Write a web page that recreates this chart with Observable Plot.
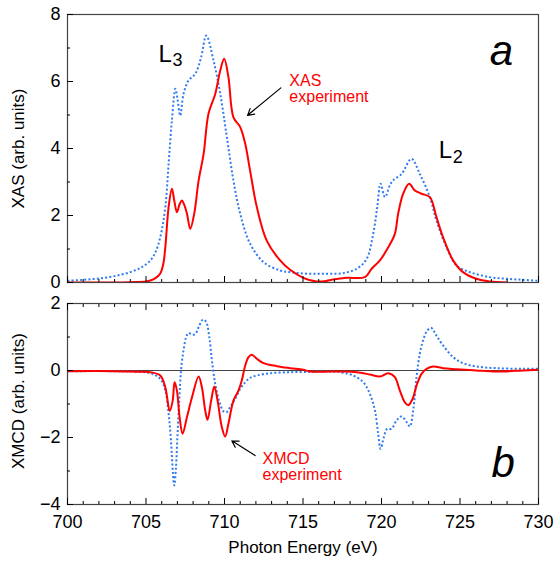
<!DOCTYPE html>
<html><head><meta charset="utf-8">
<script src="https://cdn.jsdelivr.net/npm/d3@7"></script>
<script src="https://cdn.jsdelivr.net/npm/@observablehq/plot@0.6"></script>
<style>body{margin:0;background:#fff} #chart{width:554px;height:569px;overflow:hidden} #chart svg{display:block}</style>
</head><body><div id="chart"></div>
<script>
// ---- data ----
const xasTheoryE = [700,701,702,703,704,704.7,705.28,705.6,705.91,706.23,706.44,706.65,706.87,707.0,707.18,707.39,707.71,708.14,708.5,708.84,709.3,709.73,710.15,710.57,711.0,711.63,712.48,713.54,714.18,715.0,715.87,716.7,717.57,718.42,719.05,719.47,719.73,719.94,720.22,720.53,720.74,721.28,721.91,722.44,723.08,723.5,724.14,724.77,725.62,726.89,728,729.01,730];
const xasTheoryV = [0.05,0.08,0.12,0.19,0.31,0.45,0.66,0.9,1.35,2.25,3.55,4.84,5.78,5.5,4.98,5.63,6.03,6.23,6.7,7.37,6.63,5.63,4.34,3.04,2.05,1.16,0.61,0.36,0.31,0.27,0.26,0.26,0.28,0.41,0.7,1.45,2.25,2.95,2.55,2.9,3.05,3.24,3.69,3.24,2.55,1.85,1.05,0.51,0.31,0.16,0.11,0.08,0.05];

const xasExpE = [700,703,704,705,705.28,705.6,705.91,706.1,706.23,706.44,706.65,706.8,706.97,707.15,707.29,707.45,707.61,707.82,708.07,708.35,708.67,708.98,709.41,709.73,709.98,710.25,710.57,711.0,711.32,711.63,712.06,712.69,713.54,714.18,715.02,715.87,716.4,716.93,717.78,718.94,719.37,719.9,720.43,720.85,721.06,721.38,721.76,722.12,722.55,723.08,723.5,723.92,724.56,725.19,726.04,726.89,728];
const xasExpV = [0,0,0.01,0.03,0.06,0.13,0.27,0.55,1.05,2.25,2.8,2.45,2.1,2.35,2.45,2.3,2.05,1.6,2.05,3.04,3.84,5.04,5.63,6.33,6.68,6.13,4.93,4.64,4.14,3.34,2.25,1.25,0.66,0.38,0.14,0.03,0.04,0.09,0.14,0.16,0.41,0.66,1.05,1.45,2.05,2.65,2.95,2.75,2.65,2.55,1.95,1.35,0.66,0.31,0.11,0.03,0];

const xmcdTheoryE = [700,703,704,705.28,705.91,706.23,706.44,706.59,706.72,706.8,706.91,707.01,707.12,707.23,707.39,707.56,707.71,707.93,708.14,708.35,708.63,708.84,709.03,709.2,709.41,709.68,709.94,710.15,710.36,710.68,711.0,711.32,711.63,712.06,712.91,714.18,715.45,716.29,717.36,718.2,718.84,719.26,719.58,719.79,719.94,720.15,720.36,720.64,720.96,721.28,721.6,721.81,722.02,722.23,722.44,722.65,722.91,723.18,723.5,723.92,724.56,725.19,726.04,727.32,729.01,730];
const xmcdTheoryV = [-0.02,-0.02,-0.03,-0.08,-0.25,-0.6,-1.29,-2.09,-3.08,-3.43,-2.89,-1.89,-0.9,0.0,0.6,1.0,1.12,1.07,1.09,1.29,1.52,1.44,1.0,0.3,-0.4,-0.94,-1.22,-1.24,-1.09,-0.85,-0.55,-0.35,-0.22,-0.15,-0.08,-0.05,-0.04,-0.03,-0.05,-0.15,-0.35,-0.7,-1.19,-1.89,-2.34,-1.99,-1.74,-1.74,-1.49,-1.37,-1.54,-1.67,-1.19,-0.2,0.5,0.9,1.19,1.27,1.04,0.75,0.4,0.22,0.12,0.07,0.05,0.05];

const xmcdExpE = [700,703,704.5,705.28,705.91,706.23,706.51,706.7,706.82,706.97,707.14,707.33,707.61,707.93,708.35,708.56,708.77,708.92,709.15,709.35,709.56,709.83,710.04,710.25,710.57,710.89,711.1,711.32,711.53,711.74,712.06,712.48,713.33,714.18,715.02,715.45,716.72,717.57,718.42,719.26,719.9,720.43,720.85,721.17,721.49,721.7,721.98,722.23,722.55,722.87,723.29,723.92,724.77,726.04,727.32,729.01,730];
const xmcdExpV = [-0.02,-0.02,-0.04,-0.05,-0.15,-0.5,-1.21,-0.9,-0.35,-0.6,-1.39,-1.89,-1.39,-0.8,-0.18,-0.5,-1.19,-1.47,-0.9,-0.48,-0.9,-1.69,-1.97,-1.59,-0.9,-0.6,-0.3,0.15,0.4,0.47,0.35,0.22,0.13,0.07,0.02,-0.03,-0.03,-0.03,-0.05,-0.12,-0.18,-0.08,-0.2,-0.6,-0.95,-1.04,-0.85,-0.45,-0.1,0.05,0.12,0.07,0.04,0.0,-0.03,0.0,0.02];

const xMajor = [700,705,710,715,720,725,730];
const xMinor = [701,702,703,704,706,707,708,709,711,712,713,714,716,717,718,719,721,722,723,724,726,727,728,729];
const yTopMajor = [0,2,4,6,8];
const yTopMinor = [1,3,5,7];
const yBotMajor = [-4,-2,0,2];
const yBotMinor = [-3,-1,1];

const xLabel = "Photon Energy (eV)";
const yTopLabel = "XAS (arb. units)";
const yBotLabel = "XMCD (arb. units)";

// ---- styling ----
const FONT = '"Liberation Sans", Arial, Helvetica, sans-serif';
const RED = "#ff0000";
const BLUE = "#2f7bf0";
const FRAME = "#444";
const blank = () => "";

const common = {
  width: 554, marginLeft: 67, marginRight: 16,
  x: {domain: [700, 730], label: null},
  style: {fontFamily: FONT, fontSize: "18px", color: "#000", background: "#fff", overflow: "visible"}
};

const dotted = {stroke: BLUE, strokeWidth: 2, strokeDasharray: "2,2.2", strokeLinecap: "butt", curve: "catmull-rom", clip: true};
const solid = {stroke: RED, strokeWidth: 2, curve: "catmull-rom", clip: true};

const topPanel = Plot.plot({
  ...common,
  height: 290, marginTop: 14, marginBottom: 8,
  y: {domain: [0, 8], label: null},
  marks: [
    Plot.line(xasTheoryV, {x: xasTheoryE, y: xasTheoryV, ...dotted}),
    Plot.line(xasExpV, {x: xasExpE, y: xasExpV, ...solid}),
    Plot.frame({stroke: FRAME, strokeWidth: 1.2}),
    Plot.axisY(yTopMajor, {anchor: "left", tickSize: -6, tickFormat: blank, label: null, stroke: "#000"}),
    Plot.axisY(yTopMinor, {anchor: "left", tickSize: -3, tickFormat: blank, label: null, stroke: "#000"}),
    Plot.axisY(yTopMajor, {anchor: "left", tickSize: 0, tickPadding: 7, label: null, fontSize: 18}),
    Plot.axisX(xMajor, {anchor: "bottom", tickSize: -6, tickFormat: blank, label: null, stroke: "#000"}),
    Plot.axisX(xMinor, {anchor: "bottom", tickSize: -3, tickFormat: blank, label: null, stroke: "#000"}),
    Plot.text([yTopLabel], {frameAnchor: "left", textAnchor: "middle", rotate: -90, dx: -49, fontSize: 17}),
    Plot.text(["L"], {x: 705.79, y: 6.57, textAnchor: "start", lineAnchor: "bottom", fontSize: 24}),
    Plot.text(["3"], {x: 706.68, y: 6.45, textAnchor: "start", lineAnchor: "bottom", fontSize: 18}),
    Plot.text(["L"], {x: 723.65, y: 3.72, textAnchor: "start", lineAnchor: "bottom", fontSize: 24}),
    Plot.text(["2"], {x: 724.54, y: 3.57, textAnchor: "start", lineAnchor: "bottom", fontSize: 18}),
    Plot.text(["a"], {x: 726.9, y: 6.48, textAnchor: "start", lineAnchor: "bottom", fontSize: 42, fontStyle: "italic"}),
    Plot.text(["XAS\nexperiment"], {x: 714.13, y: 5.38, textAnchor: "start", lineAnchor: "bottom", fontSize: 16, lineHeight: 1, fill: RED}),
    Plot.arrow([0], {x1: 713.59, y1: 5.81, x2: 711.47, y2: 4.99, stroke: "#000", strokeWidth: 1.2, headLength: 9})
  ]
});

const bottomPanel = Plot.plot({
  ...common,
  height: 279, marginTop: 13, marginBottom: 65,
  y: {domain: [-4, 2], label: null},
  marks: [
    Plot.ruleY([0], {stroke: FRAME, strokeWidth: 1.2}),
    Plot.line(xmcdTheoryV, {x: xmcdTheoryE, y: xmcdTheoryV, ...dotted}),
    Plot.line(xmcdExpV, {x: xmcdExpE, y: xmcdExpV, ...solid}),
    Plot.frame({stroke: FRAME, strokeWidth: 1.2}),
    Plot.axisY(yBotMajor, {anchor: "left", tickSize: -6, tickFormat: blank, label: null, stroke: "#000"}),
    Plot.axisY(yBotMinor, {anchor: "left", tickSize: -3, tickFormat: blank, label: null, stroke: "#000"}),
    Plot.axisY(yBotMajor, {anchor: "left", tickSize: 0, tickPadding: 7, label: null, fontSize: 18}),
    Plot.axisX(xMajor, {anchor: "bottom", tickSize: -6, tickFormat: blank, label: null, stroke: "#000"}),
    Plot.axisX(xMinor, {anchor: "bottom", tickSize: -3, tickFormat: blank, label: null, stroke: "#000"}),
    Plot.axisX(xMajor, {anchor: "top", tickSize: -6, tickFormat: blank, label: null, stroke: "#000"}),
    Plot.axisX(xMinor, {anchor: "top", tickSize: -3, tickFormat: blank, label: null, stroke: "#000"}),
    Plot.axisX(xMajor, {anchor: "bottom", tickSize: 0, tickPadding: 11, label: null, fontSize: 18}),
    Plot.text([yBotLabel], {frameAnchor: "left", textAnchor: "middle", rotate: -90, dx: -49, dy: -3, fontSize: 17}),
    Plot.text([xLabel], {frameAnchor: "bottom", dy: 48, fontSize: 17}),
    Plot.text(["b"], {x: 727.0, y: -3.19, textAnchor: "start", lineAnchor: "bottom", fontSize: 42, fontStyle: "italic"}),
    Plot.text(["XMCD\nexperiment"], {x: 712.42, y: -3.28, textAnchor: "start", lineAnchor: "bottom", fontSize: 16, lineHeight: 1.04, fill: RED}),
    Plot.arrow([0], {x1: 711.95, y1: -2.54, x2: 710.47, y2: -2.10, stroke: "#000", strokeWidth: 1.2, headLength: 9})
  ]
});

const chart = document.getElementById("chart");
chart.appendChild(topPanel);
chart.appendChild(bottomPanel);
</script>
</body></html>
